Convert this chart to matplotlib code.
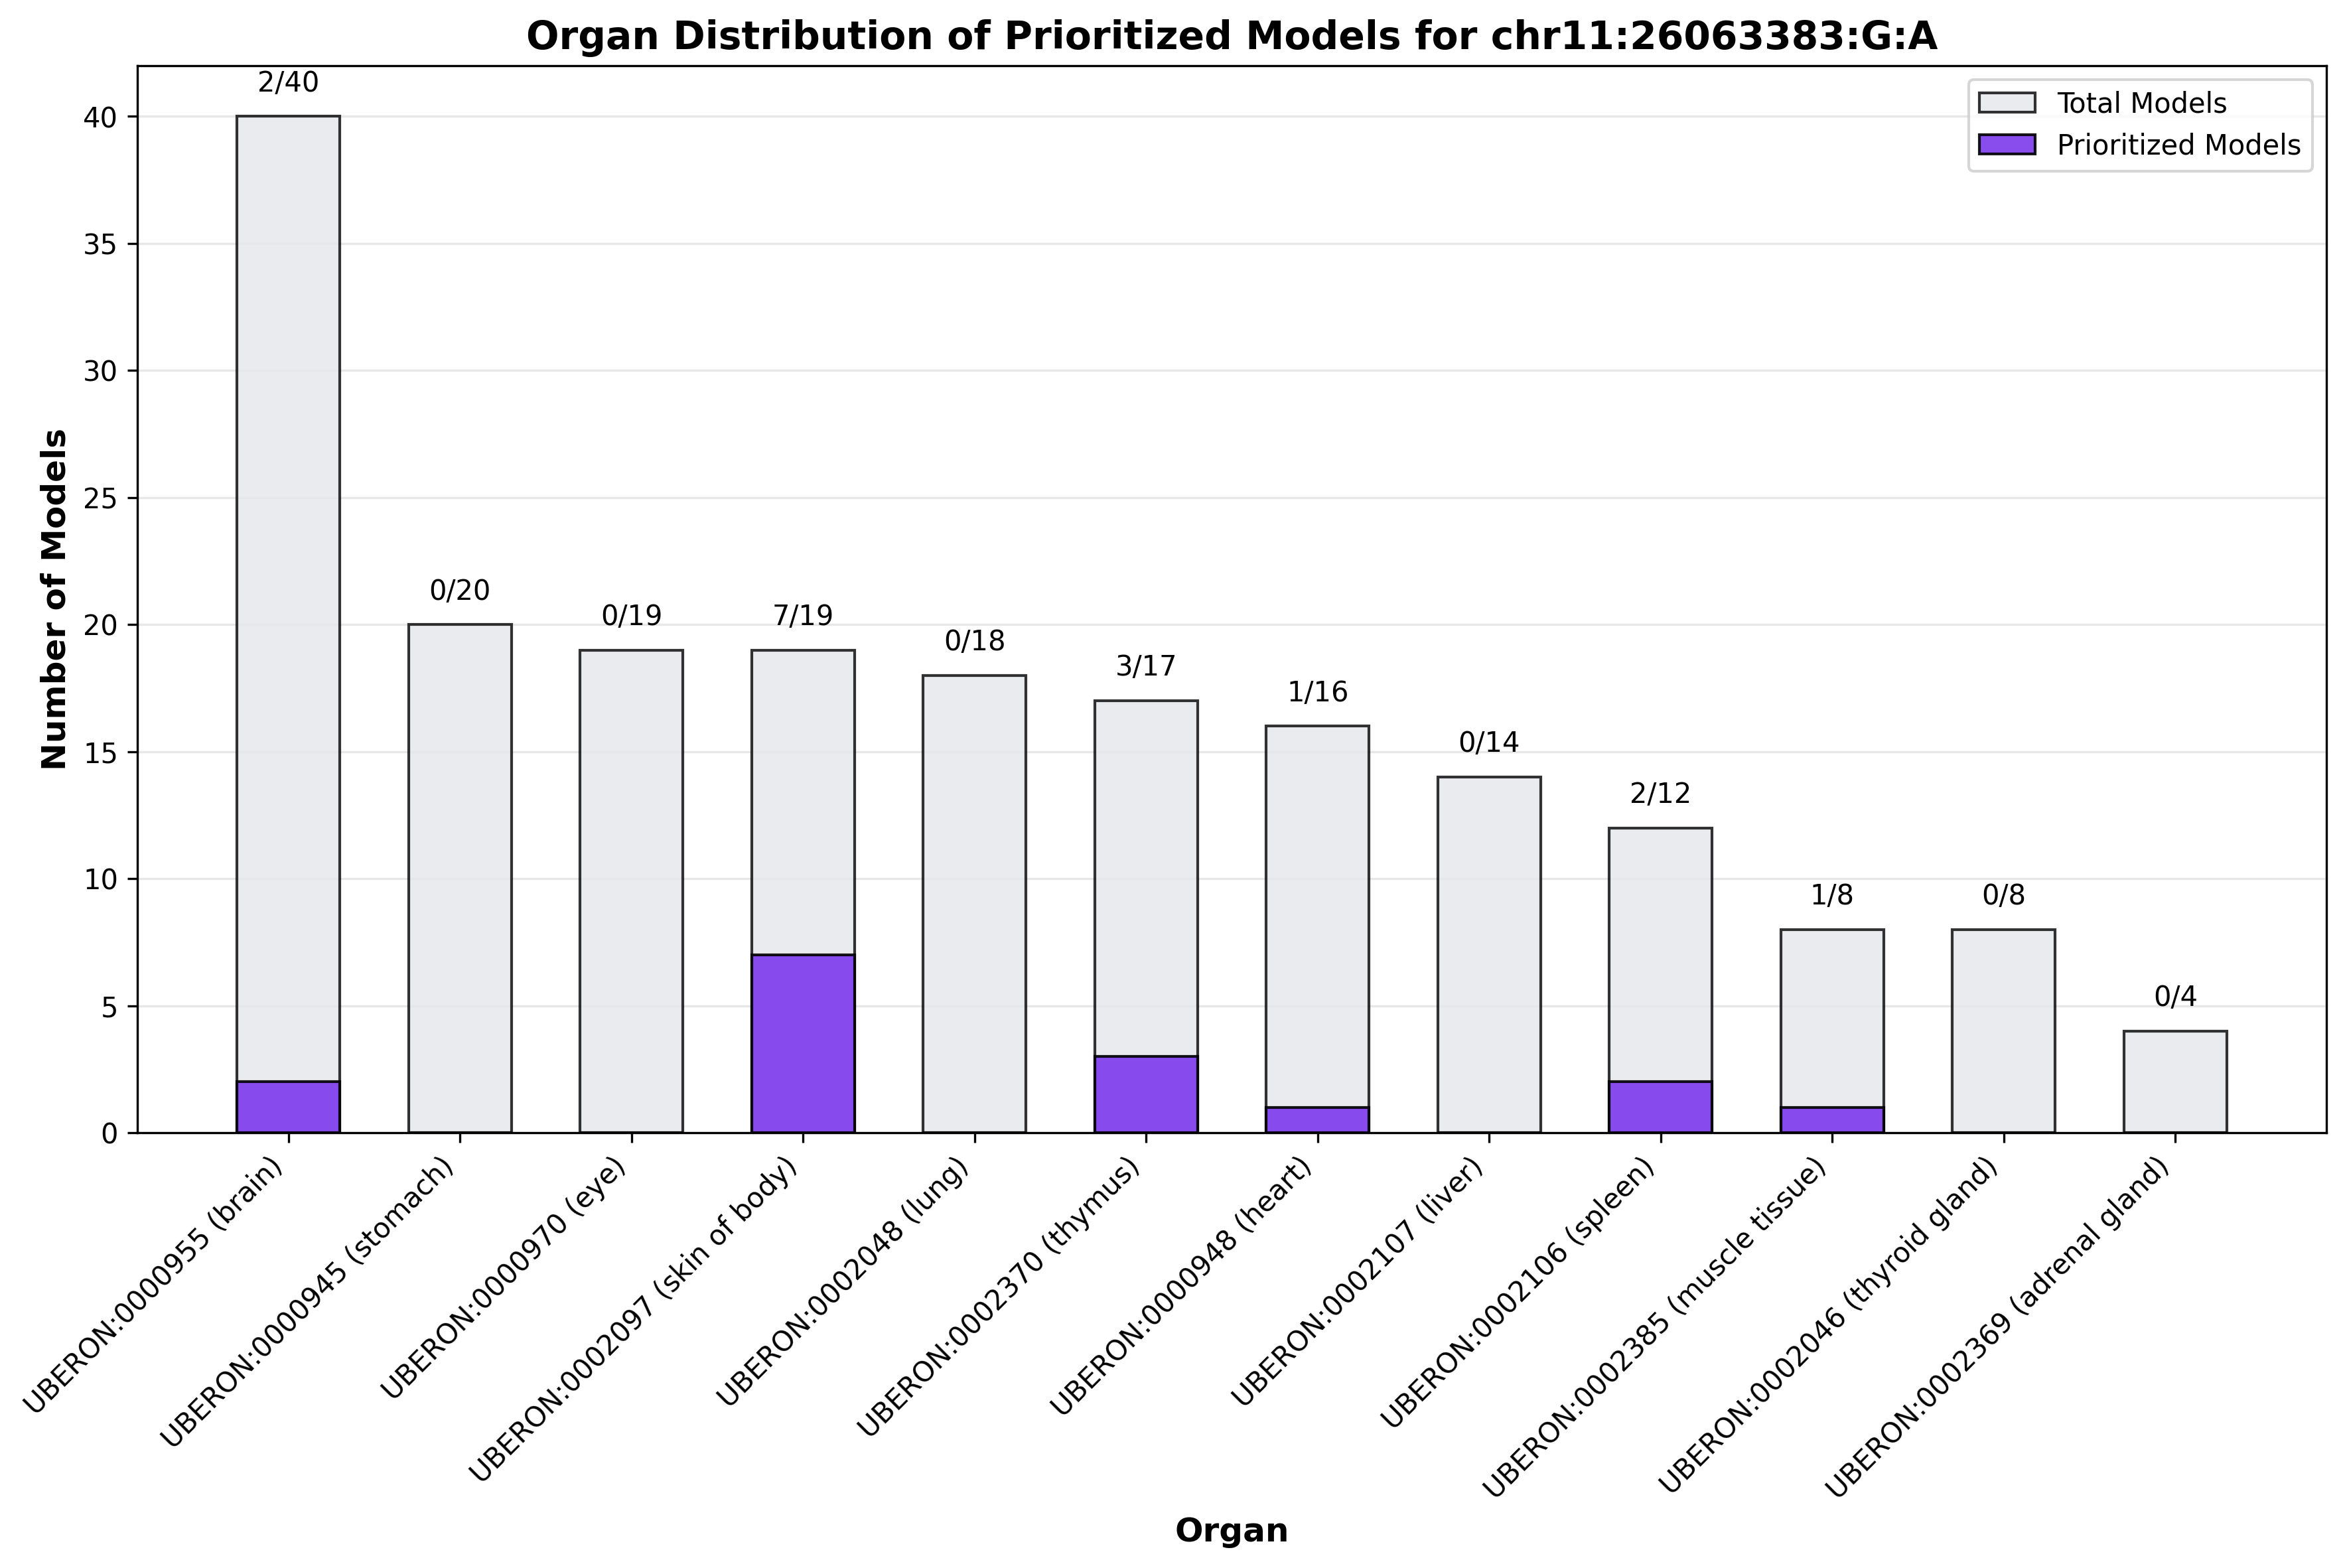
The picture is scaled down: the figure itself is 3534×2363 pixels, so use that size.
import matplotlib
matplotlib.use("Agg")
import matplotlib.pyplot as plt
import numpy as np

organs = [
    "UBERON:0000955 (brain)",
    "UBERON:0000945 (stomach)",
    "UBERON:0000970 (eye)",
    "UBERON:0002097 (skin of body)",
    "UBERON:0002048 (lung)",
    "UBERON:0002370 (thymus)",
    "UBERON:0000948 (heart)",
    "UBERON:0002107 (liver)",
    "UBERON:0002106 (spleen)",
    "UBERON:0002385 (muscle tissue)",
    "UBERON:0002046 (thyroid gland)",
    "UBERON:0002369 (adrenal gland)",
]
total_models = [40, 20, 19, 19, 18, 17, 16, 14, 12, 8, 8, 4]
prioritized_models = [2, 0, 0, 7, 0, 3, 1, 0, 2, 1, 0, 0]

fig, ax = plt.subplots(figsize=(11.783, 7.877), dpi=300)
x = np.arange(len(organs))

ax.bar(x, total_models, width=0.6, color='#e5e7eb', edgecolor='black',
       linewidth=1, alpha=0.8, label='Total Models')
ax.bar(x, prioritized_models, width=0.6, color='#7c3aed', edgecolor='black',
       linewidth=1, alpha=0.9, label='Prioritized Models')

# ratio labels above bars
for i, (t, p) in enumerate(zip(total_models, prioritized_models)):
    ax.text(i, t + 0.75, f"{p}/{t}", ha='center', va='bottom', fontsize=10)

ax.set_xticks(x)
ax.set_xticklabels(organs, rotation=45, ha='right')
ax.set_ylim(0, 42)
ax.set_xlabel('Organ', fontsize=12, fontweight='bold')
ax.set_ylabel('Number of Models', fontsize=12, fontweight='bold')
ax.set_title('Organ Distribution of Prioritized Models for chr11:26063383:G:A',
             fontsize=14, fontweight='bold')
ax.grid(axis='y', alpha=0.3)
ax.set_axisbelow(True)
ax.legend(loc='upper right')

fig.subplots_adjust(left=0.0586, right=0.9918, top=0.9581, bottom=0.2776)
fig.savefig('out.png', dpi=300)
